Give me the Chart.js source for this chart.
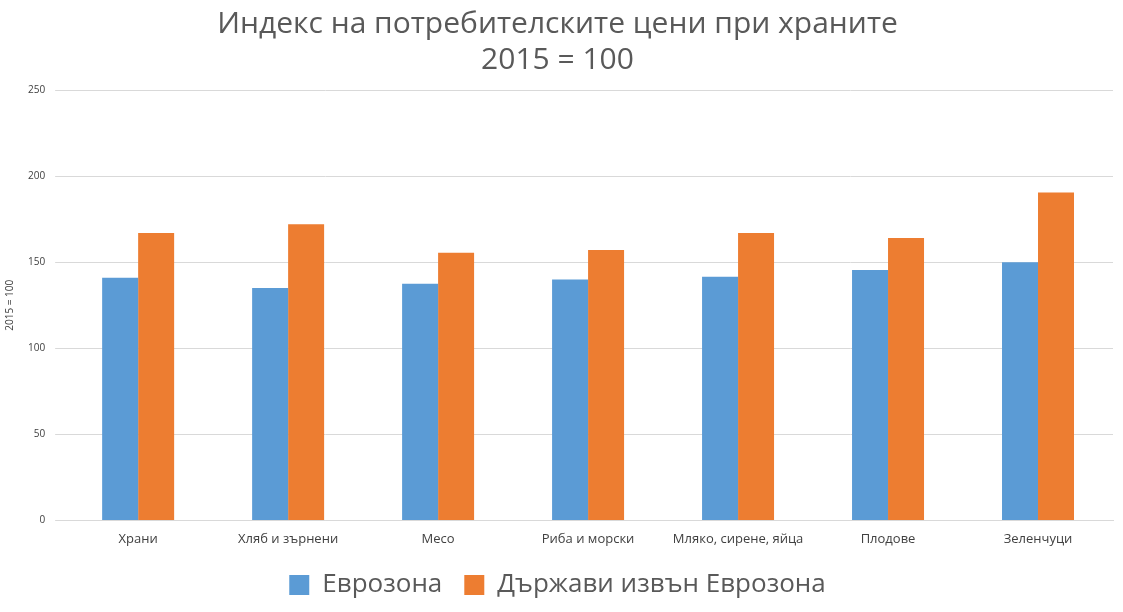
<!DOCTYPE html>
<html><head><meta charset="utf-8">
<script src="https://cdn.jsdelivr.net/npm/chart.js@4"></script>
<style>html,body{margin:0;padding:0;background:#fff}#w{width:1123px;height:612px}</style>
</head><body><div id="w"><canvas id="c"></canvas></div>
<script>
const categories = ["Храни","Хляб и зърнени","Месо","Риба и морски","Мляко, сирене, яйца","Плодове","Зеленчуци"];
const eurozone = [141,135,137.5,140,141.5,145.5,150];
const nonEurozone = [167,172,155.5,157,167,164,190.5];
const seriesNames = ["Еврозона","Държави извън Еврозона"];
new Chart(document.getElementById('c'), {
  type: 'bar',
  data: { labels: categories, datasets: [
    {label: seriesNames[0], data: eurozone, backgroundColor: '#5B9BD5', categoryPercentage: 0.48, barPercentage: 1},
    {label: seriesNames[1], data: nonEurozone, backgroundColor: '#ED7D31', categoryPercentage: 0.48, barPercentage: 1}
  ]},
  options: {
    responsive: true, maintainAspectRatio: false, animation: false,
    layout: {padding: {left: 2, right: 10, top: 0, bottom: 4}},
    plugins: {
      title: {display: true, text: ["Индекс на потребителските цени при храните","2015 = 100"], color: '#595959',
        font: {family: "Open Sans", size: 30, weight: 'normal'}, padding: {top: 6, bottom: 12}, lineHeight: 1.45},
      legend: {position: 'bottom', labels: {color: '#595959', font: {family: "Open Sans", size: 26}, boxWidth: 20, boxHeight: 20, padding: 22}},
      tooltip: {enabled: false}
    },
    scales: {
      x: {grid: {display: false}, border: {color: '#d9d9d9'}, ticks: {color: '#404040', font: {family: "Open Sans", size: 13}}},
      y: {min: 0, max: 250, ticks: {stepSize: 50, color: '#404040', font: {family: "Open Sans", size: 10}, padding: 10},
        grid: {color: '#d9d9d9'}, border: {display: false},
        title: {display: true, text: '2015 = 100', color: '#404040', font: {family: "Open Sans", size: 10}, padding: 2}}
    }
  }
});
</script></body></html>
